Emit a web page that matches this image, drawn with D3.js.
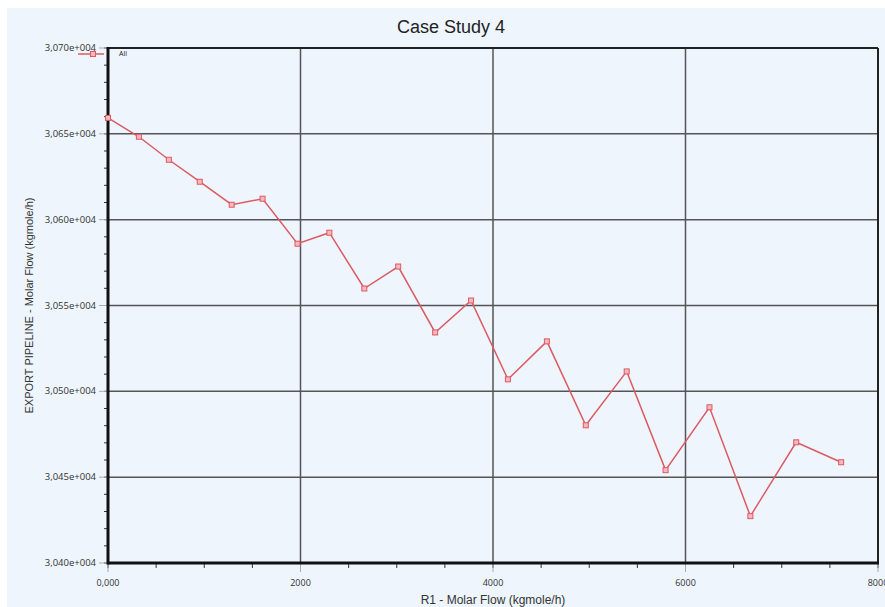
<!DOCTYPE html>
<html>
<head>
<meta charset="utf-8">
<script src="https://cdn.jsdelivr.net/npm/d3@7"></script>
<style>
  body { margin: 0; background: #ffffff; }
  svg { display: block; }
</style>
</head>
<body>
<svg id="chart" width="885" height="607"></svg>
<script>
// data
const seriesName = 'All';
const r1Flow = [0, 321, 632, 953, 1285, 1606, 1969, 2300, 2663, 3015, 3399,
                3772, 4155, 4560, 4964, 5389, 5793, 6249, 6674, 7150, 7617];
const exportFlow = [30659.3, 30648.3, 30634.9, 30622.1, 30608.7, 30612.2, 30586.0,
                    30592.4, 30559.9, 30572.7, 30534.3, 30552.9, 30507.0, 30529.1,
                    30480.2, 30511.6, 30454.1, 30490.7, 30427.3, 30470.3, 30458.7];
const xTicks = [0, 2000, 4000, 6000, 8000];
const xTickLabels = ['0,000', '2000', '4000', '6000', '8000'];
const yTicks = [30400, 30450, 30500, 30550, 30600, 30650, 30700];

const svg = d3.select('#chart');
const pL = 108, pR = 878, pT = 48, pB = 563;

// page background
svg.append('rect').attr('x', 7).attr('y', 8).attr('width', 878).attr('height', 599)
  .attr('fill', '#eef5fc');

const x = d3.scaleLinear().domain([0, 8000]).range([pL, pR]);
const y = d3.scaleLinear().domain([30400, 30700]).range([pB, pT]);

// title
svg.append('text').attr('x', 451).attr('y', 33)
  .attr('text-anchor', 'middle')
  .attr('font-family', 'Liberation Sans, Arial, sans-serif')
  .attr('font-size', 18).attr('fill', '#222')
  .text('Case Study 4');

// minor ticks
const yMinor = d3.range(30400, 30701, 10);
svg.append('g').selectAll('line').data(yMinor).join('line')
  .attr('x1', pL - 4).attr('x2', pL)
  .attr('y1', d => y(d)).attr('y2', d => y(d))
  .attr('stroke', '#333').attr('stroke-width', 1);
const xMinor = d3.range(0, 8001, 500);
svg.append('g').selectAll('line').data(xMinor).join('line')
  .attr('x1', d => x(d)).attr('x2', d => x(d))
  .attr('y1', pB).attr('y2', pB + 5)
  .attr('stroke', '#333').attr('stroke-width', 1);

// major tick stubs (light)
svg.append('g').selectAll('line').data(yTicks).join('line')
  .attr('x1', pL - 9).attr('x2', pL)
  .attr('y1', d => y(d)).attr('y2', d => y(d))
  .attr('stroke', '#aab').attr('stroke-width', 1);
svg.append('g').selectAll('line').data(xTicks).join('line')
  .attr('x1', d => x(d)).attr('x2', d => x(d))
  .attr('y1', pB).attr('y2', pB + 9)
  .attr('stroke', '#aab').attr('stroke-width', 1);

// gridlines
svg.append('g').selectAll('line').data(yTicks.slice(1, -1)).join('line')
  .attr('x1', pL).attr('x2', pR)
  .attr('y1', d => y(d)).attr('y2', d => y(d))
  .attr('stroke', '#555').attr('stroke-width', 1.5);
svg.append('g').selectAll('line').data(xTicks.slice(1, -1)).join('line')
  .attr('x1', d => x(d)).attr('x2', d => x(d))
  .attr('y1', pT).attr('y2', pB)
  .attr('stroke', '#555').attr('stroke-width', 1.5);

// frame
svg.append('line').attr('x1', pL).attr('x2', pR).attr('y1', pT).attr('y2', pT)
  .attr('stroke', '#222').attr('stroke-width', 2);
svg.append('line').attr('x1', pR).attr('x2', pR).attr('y1', pT).attr('y2', pB)
  .attr('stroke', '#222').attr('stroke-width', 2);
svg.append('line').attr('x1', pL).attr('x2', pL).attr('y1', pT - 1).attr('y2', pB + 1.5)
  .attr('stroke', '#111').attr('stroke-width', 3);
svg.append('line').attr('x1', pL).attr('x2', pR + 1).attr('y1', pB).attr('y2', pB)
  .attr('stroke', '#111').attr('stroke-width', 3);

// tick labels
const fmtY = v => (v / 1e4).toFixed(3).replace('.', ',') + 'e+004';
svg.append('g').selectAll('text').data(yTicks).join('text')
  .attr('x', pL - 12).attr('y', d => y(d) + 3)
  .attr('text-anchor', 'end')
  .attr('font-family', 'Open Sans, sans-serif').attr('font-size', 9.5)
  .attr('fill', '#333').text(fmtY);
svg.append('g').selectAll('text').data(xTicks).join('text')
  .attr('x', d => x(d)).attr('y', pB + 23)
  .attr('text-anchor', 'middle')
  .attr('font-family', 'Open Sans, sans-serif').attr('font-size', 9)
  .attr('fill', '#333').text((d, i) => xTickLabels[i]);

// axis titles
svg.append('text').attr('x', (pL + pR) / 2).attr('y', 604)
  .attr('text-anchor', 'middle')
  .attr('font-family', 'Liberation Sans, Arial, sans-serif').attr('font-size', 12)
  .attr('fill', '#333').text('R1 - Molar Flow (kgmole/h)');
svg.append('text')
  .attr('transform', `translate(33,${(pT + pB) / 2}) rotate(-90)`)
  .attr('text-anchor', 'middle')
  .attr('font-family', 'Liberation Sans, Arial, sans-serif').attr('font-size', 11)
  .attr('fill', '#333').text('EXPORT PIPELINE - Molar Flow (kgmole/h)');

// series
const pts = r1Flow.map((d, i) => [d, exportFlow[i]]);
const line = d3.line().x(d => x(d[0])).y(d => y(d[1]));
svg.append('path').datum(pts)
  .attr('d', line).attr('fill', 'none')
  .attr('stroke', '#dc5a62').attr('stroke-width', 1.5);
svg.append('g').selectAll('rect').data(pts).join('rect')
  .attr('x', d => x(d[0]) - 2.5).attr('y', d => y(d[1]) - 2.5)
  .attr('width', 5).attr('height', 5)
  .attr('fill', '#f4b8bd').attr('stroke', '#e05863').attr('stroke-width', 1);

// legend
svg.append('line').attr('x1', 78).attr('x2', 104).attr('y1', 54).attr('y2', 54)
  .attr('stroke', '#dc5a62').attr('stroke-width', 1.5);
svg.append('rect').attr('x', 90.5).attr('y', 51.5).attr('width', 5).attr('height', 5)
  .attr('fill', '#f4b8bd').attr('stroke', '#e05863');
svg.append('text').attr('x', 119).attr('y', 56)
  .attr('font-family', 'Open Sans, sans-serif').attr('font-size', 7)
  .attr('fill', '#222').text(seriesName);
</script>
</body>
</html>
